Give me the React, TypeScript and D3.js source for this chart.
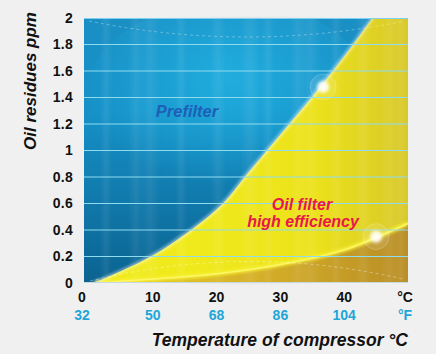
import React from "react";
import * as d3 from "d3";

const yTicks = [0, 0.2, 0.4, 0.6, 0.8, 1, 1.2, 1.4, 1.6, 1.8, 2];
const celsiusTicks = [0, 10, 20, 30, 40];
const fahrenheitLabels = ["32", "50", "68", "86", "104"];
const boundaryTemp = [0.8, 9.7, 16.0, 21.0, 24.4, 27.9, 31.4, 34.9, 38.2, 41.4, 44.4];
const boundaryPpm = [0, 0.2, 0.4, 0.6, 0.8, 1.0, 1.2, 1.4, 1.6, 1.8, 2.0];
const lowerTemp = [1, 10, 20, 30, 40, 50];
const lowerPpm = [0, 0.03, 0.07, 0.14, 0.25, 0.45];
const glowPoints = [
  { t: 36.7, p: 1.48 },
  { t: 45, p: 0.35 },
];

const W = 436;
const H = 354;
const plotL = 84;
const plotR = 408;
const plotT = 18;
const plotB = 283;

export default function App() {
  const x = d3.scaleLinear().domain([0, 50]).range([89, 408]);
  const y = d3.scaleLinear().domain([0, 2]).range([plotB, plotT]);

  const boundary = boundaryTemp.map((t, i) => [x(t), y(boundaryPpm[i])] as [number, number]);
  const lower = lowerTemp.map((t, i) => [x(t), y(lowerPpm[i])] as [number, number]);
  const bCurve = d3.line().curve(d3.curveCatmullRom.alpha(0.5));
  const lCurve = d3.line().curve(d3.curveMonotoneX);
  const boundaryPath = bCurve(boundary) as string;
  const lowerPath = lCurve(lower) as string;

  const yellowArea =
    boundaryPath +
    `L${plotR},${plotT}L${plotR},${plotB}L${boundary[0][0]},${plotB}Z`;
  const goldArea =
    lowerPath + `L${plotR},${plotB}L${lower[0][0]},${plotB}Z`;

  const font = "'Liberation Sans', Arial, Helvetica, sans-serif";
  const streaks = [100, 128, 140, 175, 210, 240, 262, 290, 300, 330, 355, 380, 395];

  return (
    <svg
      width={W}
      height={H}
      style={{ position: "absolute", left: 0, top: 0 }}
      fontFamily={font}
    >
      <defs>
        <linearGradient id="blueG" x1="0" y1="0" x2="0" y2="1">
          <stop offset="0" stopColor="#1a8fc4" />
          <stop offset="0.35" stopColor="#1691c8" />
          <stop offset="1" stopColor="#0b6390" />
        </linearGradient>
        <radialGradient id="blueHi" cx="0.5" cy="0.35" r="0.5">
          <stop offset="0" stopColor="#22b4e4" stopOpacity="0.8" />
          <stop offset="1" stopColor="#22b4e4" stopOpacity="0" />
        </radialGradient>
        <radialGradient id="tealHi" cx="0.5" cy="0" r="0.5">
          <stop offset="0" stopColor="#2ec0b0" stopOpacity="0.6" />
          <stop offset="1" stopColor="#2ec0b0" stopOpacity="0" />
        </radialGradient>
        <linearGradient id="yellowG" x1="0" y1="0" x2="1" y2="0">
          <stop offset="0.3" stopColor="#f0ea1c" />
          <stop offset="0.7" stopColor="#ece21a" />
          <stop offset="1" stopColor="#d8c82a" />
        </linearGradient>
        <linearGradient id="goldG" x1="0" y1="0" x2="1" y2="0">
          <stop offset="0" stopColor="#e6d820" />
          <stop offset="0.45" stopColor="#d8b428" />
          <stop offset="1" stopColor="#b98e26" />
        </linearGradient>
        <radialGradient id="topShade" cx="0.5" cy="1" r="0.6">
          <stop offset="0" stopColor="#8a8a8e" />
          <stop offset="0.6" stopColor="#b4b4b8" />
          <stop offset="1" stopColor="#f0f0f0" stopOpacity="0" />
        </radialGradient>
        <radialGradient id="botShade" cx="0.5" cy="0" r="0.6">
          <stop offset="0" stopColor="#8c8c90" />
          <stop offset="0.6" stopColor="#bcbcc0" />
          <stop offset="1" stopColor="#f0f0f0" stopOpacity="0" />
        </radialGradient>
        <radialGradient id="glow">
          <stop offset="0" stopColor="#ffffff" stopOpacity="1" />
          <stop offset="0.45" stopColor="#ffffff" stopOpacity="0.8" />
          <stop offset="0.8" stopColor="#ffffff" stopOpacity="0.15" />
          <stop offset="1" stopColor="#ffffff" stopOpacity="0" />
        </radialGradient>
        <linearGradient id="streak" x1="0" y1="0" x2="1" y2="0">
          <stop offset="0" stopColor="#ffffff" stopOpacity="0" />
          <stop offset="0.5" stopColor="#ffffff" stopOpacity="0.07" />
          <stop offset="1" stopColor="#ffffff" stopOpacity="0" />
        </linearGradient>
        <filter id="blur2">
          <feGaussianBlur stdDeviation="1.5" />
        </filter>
        <clipPath id="plotClip">
          <rect x={plotL} y={plotT} width={plotR - plotL} height={plotB - plotT} />
        </clipPath>
      </defs>

      <rect width={W} height={H} fill="#f0f0f0" />

      <ellipse cx={(plotL + plotR) / 2 + 3} cy={plotT} rx={170} ry={18} fill="url(#topShade)" />
      <ellipse cx={(plotL + plotR) / 2 + 3} cy={plotB} rx={165} ry={18} fill="url(#botShade)" />

      <g clipPath="url(#plotClip)">
        <rect x={plotL} y={plotT} width={plotR - plotL} height={plotB - plotT} fill="url(#blueG)" />
        <ellipse cx={230} cy={110} rx={150} ry={110} fill="url(#blueHi)" />
        <ellipse cx={130} cy={plotT} rx={30} ry={40} fill="url(#tealHi)" />
        <ellipse cx={290} cy={plotT} rx={30} ry={40} fill="url(#tealHi)" />
        <path d={yellowArea} fill="url(#yellowG)" />
        <path d={goldArea} fill="url(#goldG)" />
        {streaks.map((s, i) => (
          <rect key={i} x={s} y={plotT} width={12 + (i % 3) * 4} height={plotB - plotT} fill="url(#streak)" />
        ))}
        <path d={lowerPath} fill="none" stroke="#f8f030" strokeWidth={4} filter="url(#blur2)" />
        <path d={lowerPath} fill="none" stroke="#fbf66a" strokeWidth={1.5} />
        <path d={boundaryPath} fill="none" stroke="#ffffff" strokeOpacity={0.55} strokeWidth={3} filter="url(#blur2)" />
        {yTicks.slice(1).map((v) => (
          <line key={v} x1={plotL} x2={plotR} y1={y(v)} y2={y(v)} stroke="#8fdcf0" strokeWidth={1} />
        ))}
        <path
          d={`M${plotL + 5},${plotT + 3} Q${(plotL + plotR) / 2},${plotT + 35} ${plotR - 3},${plotT + 3}`}
          fill="none" stroke="#ffffff" strokeOpacity={0.4} strokeDasharray="3,3" strokeWidth={0.8}
        />
        <path
          d={`M${plotL + 6},${plotB - 2} Q${(plotL + plotR) / 2},${plotB - 40} ${plotR - 5},${plotB - 4}`}
          fill="none" stroke="#ffffff" strokeOpacity={0.45} strokeDasharray="3,3" strokeWidth={0.8}
        />
        {glowPoints.map((g, i) => (
          <g key={i}>
            <circle cx={x(g.t)} cy={y(g.p)} r={13} fill="#ffffff" fillOpacity={0.12} stroke="#ffffff" strokeOpacity={0.3} strokeWidth={0.6} />
            <circle cx={x(g.t)} cy={y(g.p)} r={9} fill="url(#glow)" />
          </g>
        ))}
      </g>
      <rect x={plotL} y={plotT} width={plotR - plotL} height={1} fill="#7fd0ee" />
      <rect x={plotL} y={plotB - 1} width={plotR - plotL} height={1} fill="#c8d8e0" />

      <text x={187} y={117} textAnchor="middle" fontSize={16.5} fontWeight="bold" fontStyle="italic" fill="#1e5fb8">
        Prefilter
      </text>
      <text x={302} y={210} textAnchor="middle" fontSize={16} fontWeight="bold" fontStyle="italic" fill="#e8174c">
        Oil filter
      </text>
      <text x={303} y={227} textAnchor="middle" fontSize={16} fontWeight="bold" fontStyle="italic" fill="#e8174c">
        high efficiency
      </text>

      {yTicks.map((v) => (
        <text key={v} x={73} y={y(v) + 4.8} textAnchor="end" fontSize={14} fontWeight="bold" fill="#111" letterSpacing={0.3}>
          {String(v)}
        </text>
      ))}
      <text
        transform="translate(36,81) rotate(-90)"
        textAnchor="middle"
        fontSize={17}
        fontWeight="bold"
        fontStyle="italic"
        fill="#111"
      >
        Oil residues ppm
      </text>

      {celsiusTicks.map((v, i) => (
        <text key={v} x={i === 0 ? 82 : x(v)} y={302} textAnchor="middle" fontSize={14} fontWeight="bold" fill="#111">
          {String(v)}
        </text>
      ))}
      <text x={405} y={302} textAnchor="middle" fontSize={14} fontWeight="bold" fill="#111">°C</text>
      {fahrenheitLabels.map((f, i) => (
        <text key={f} x={i === 0 ? 82 : x(celsiusTicks[i])} y={320} textAnchor="middle" fontSize={14} fontWeight="bold" fill="#1fa6d8">
          {f}
        </text>
      ))}
      <text x={405} y={320} textAnchor="middle" fontSize={14} fontWeight="bold" fill="#1fa6d8">°F</text>
      <text x={408} y={346} textAnchor="end" fontSize={17.5} fontWeight="bold" fontStyle="italic" fill="#111">
        Temperature of compressor °C
      </text>
    </svg>
  );
}
